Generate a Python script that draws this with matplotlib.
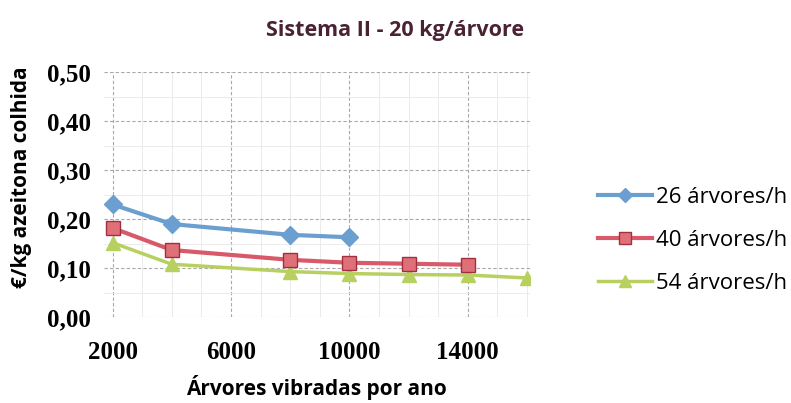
import numpy as np
import matplotlib.pyplot as plt
from matplotlib.ticker import MultipleLocator, FuncFormatter

arvores_26 = [2000, 4000, 8000, 10000]
custo_26 = [0.23, 0.19, 0.168, 0.163]

arvores_40 = [2000, 4000, 8000, 10000, 12000, 14000]
custo_40 = [0.182, 0.137, 0.117, 0.111, 0.109, 0.107]

arvores_54 = [2000, 4000, 8000, 10000, 12000, 14000, 16000]
custo_54 = [0.152, 0.108, 0.093, 0.089, 0.087, 0.086, 0.08]

x_ticks = [2000, 6000, 10000, 14000]
y_ticks = [0.0, 0.1, 0.2, 0.3, 0.4, 0.5]

fig = plt.figure(figsize=(7.91, 4.03), dpi=100)
ax = fig.add_axes([0.131, 0.213, 0.539, 0.608])

ax.plot(arvores_26, custo_26, color='#6a9fd0', linewidth=3, marker='D',
        markersize=9, label='26 árvores/h', zorder=3)
ax.plot(arvores_40, custo_40, color='#d85a6a', linewidth=3, marker='s',
        markersize=10, markerfacecolor='#e07078', markeredgecolor='#a03040',
        label='40 árvores/h', zorder=3)
ax.plot(arvores_54, custo_54, color='#b8d060', linewidth=2.5, marker='^',
        markersize=10, label='54 árvores/h', zorder=2)

ax.set_xlim(1700, 16100)
ax.set_ylim(0, 0.5)
ax.set_xticks(x_ticks)
ax.set_yticks(y_ticks)
ax.xaxis.set_minor_locator(MultipleLocator(1000))
ax.yaxis.set_minor_locator(MultipleLocator(0.05))
ax.yaxis.set_major_formatter(FuncFormatter(lambda v, p: f'{v:.2f}'.replace('.', ',')))

ax.grid(True, which='major', color='#a8a8a8', linestyle=(0, (3, 2)), linewidth=0.8)
ax.grid(True, which='minor', color='#e8e8e8', linestyle='-', linewidth=0.6)
ax.tick_params(axis='y', which='both', length=0, pad=9)
ax.tick_params(axis='x', which='both', length=0, pad=17)
for s in ax.spines.values():
    s.set_visible(False)

for lbl in ax.get_xticklabels() + ax.get_yticklabels():
    lbl.set_fontfamily('Liberation Serif')
    lbl.set_fontweight('bold')
    lbl.set_fontsize(18)

ax.set_xlabel('Árvores vibradas por ano', fontsize=15, fontweight='bold',
              fontfamily='Open Sans')
ax.xaxis.set_label_coords(0.5, -0.235)
ax.set_ylabel('€/kg azeitona colhida', fontsize=15, fontweight='bold',
              fontfamily='Open Sans')
ax.yaxis.set_label_coords(-0.168, 0.571)

fig.text(0.5, 0.925, 'Sistema II - 20 kg/árvore', fontsize=15.5, fontweight='bold',
         fontfamily='Open Sans', color='#4a2233', ha='center', va='center')

leg = ax.legend(loc='center left', bbox_to_anchor=(1.16, 0.314), frameon=False,
                prop={'family': 'Open Sans', 'size': 16}, handlelength=2.4,
                handletextpad=0.2, labelspacing=1.0, borderpad=0,
                borderaxespad=0, markerscale=0.8)

fig.savefig('out.png', dpi=100)
